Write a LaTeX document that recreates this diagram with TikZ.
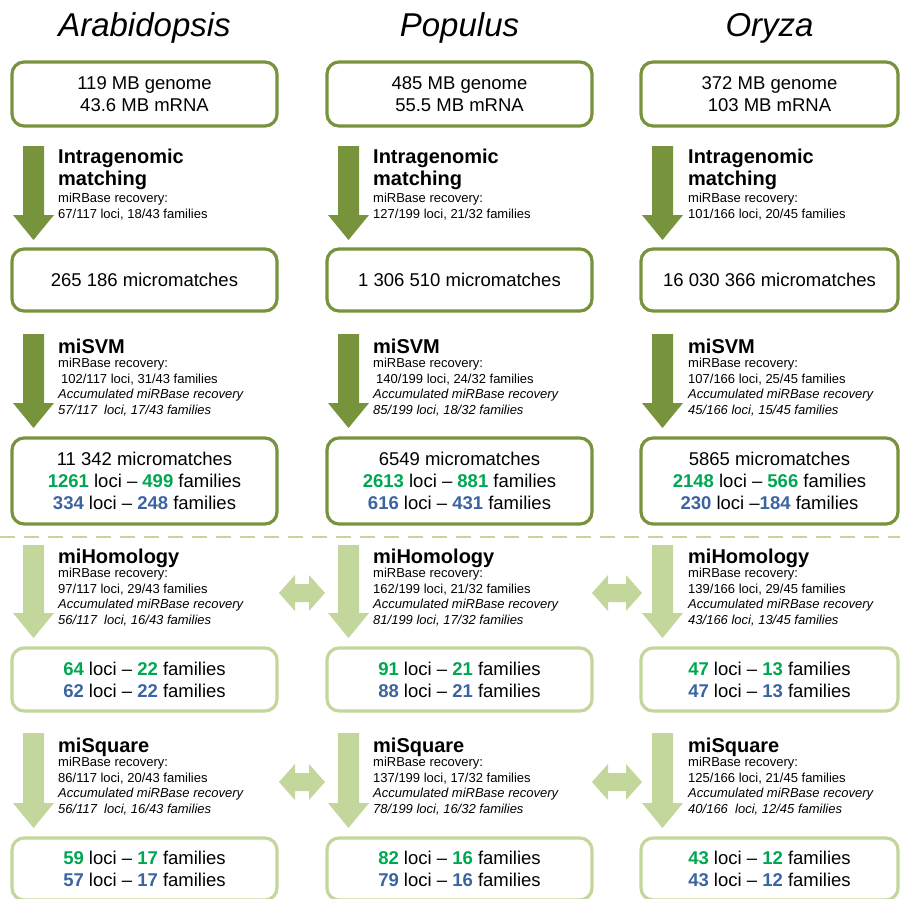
\documentclass[tikz,border=0pt]{standalone}
\usepackage{fontspec}
\setmainfont{Liberation Sans}
\usetikzlibrary{calc}
\definecolor{dkg}{RGB}{119,147,60}
\definecolor{ltg}{RGB}{195,214,155}
\definecolor{numg}{RGB}{0,166,81}
\definecolor{numb}{RGB}{59,100,160}
\newcommand\gn[1]{\textcolor{numg}{\bfseries #1}}
\newcommand\bn[1]{\textcolor{numb}{\bfseries #1}}
\newcommand\varrow[3]{\fill[#1] let \p1=(#2), \p2=(#3) in
  (\x1-10.5pt,\y1) -- (\x1+10.5pt,\y1) -- (\x1+10.5pt,\y2+25pt) -- (\x1+20.5pt,\y2+25pt)
  -- (\x1,\y2) -- (\x1-20.5pt,\y2+25pt) -- (\x1-10.5pt,\y2+25pt) -- cycle;}
\newcommand\harrow[3]{\fill[#1] let \p1=(#2), \p2=(#3) in
  (\x1,\y1) -- (\x1+16pt,\y1+18pt) -- (\x1+16pt,\y1+9pt) -- (\x2-16pt,\y1+9pt)
  -- (\x2-16pt,\y1+18pt) -- (\x2,\y1) -- (\x2-16pt,\y1-18pt) -- (\x2-16pt,\y1-9pt)
  -- (\x1+16pt,\y1-9pt) -- (\x1+16pt,\y1-18pt) -- cycle;}
\newcommand\stepblk[8]{%
  \node[stepname] (#1t) at (#2,#3) {#4};
  \node[small] (#1a) at (#2,#3+14.5) {#5};
  \node[small] (#1b) at (#2,#3+30) {#6};
  \node[smallit] (#1c) at (#2,#3+45.5) {#7};
  \node[smallit] (#1d) at (#2,#3+61) {#8};}
\newcommand\stepone[4]{%
  \node[stepname] (#1t) at (#2,163) {Intragenomic};
  \node[stepname] (#1u) at (#2,185) {matching};
  \node[small] (#1a) at (#2,202) {#3};
  \node[small] (#1b) at (#2,218) {#4};}
\begin{document}
\begin{tikzpicture}[x=1pt,y=-1pt,
  box/.style={draw=dkg, line width=3.2pt, rounded corners=12pt, outer sep=0pt,
    align=center, inner sep=2pt, font=\fontsize{18.5}{22}\selectfont},
  lbox/.style={box, draw=ltg},
  title/.style={anchor=base, font=\fontsize{33}{36}\selectfont\itshape},
  stepname/.style={anchor=base west, inner sep=0pt, font=\fontsize{20}{22}\selectfont\bfseries},
  small/.style={anchor=base west, inner sep=0pt, font=\fontsize{13}{15}\selectfont},
  smallit/.style={anchor=base west, inner sep=0pt, font=\fontsize{13}{15}\selectfont\itshape},
]
\useasboundingbox (0,0) rectangle (900,899);

% titles
\node[title] (ta) at (144.5,37) {Arabidopsis};
\node[title] (tb) at (459.5,37) {Populus};
\node[title] (tc) at (769.5,37) {Oryza};

% boxes column a
\node[box, minimum width=265pt, minimum height=64pt] (b1a) at (144.5,94) {119 MB genome\\43.6 MB mRNA};
\node[box, minimum width=265pt, minimum height=62pt] (b2a) at (144.5,280) {265 186 micromatches};
\node[box, minimum width=265pt, minimum height=86pt] (b3a) at (144.5,481) {11 342 micromatches\\\gn{1261} loci -- \gn{499} families\\\bn{334} loci -- \bn{248} families};
\node[lbox, minimum width=265pt, minimum height=63pt] (b4a) at (144.5,679.5) {\gn{64} loci -- \gn{22} families\\\bn{62} loci -- \bn{22} families};
\node[lbox, minimum width=265pt, minimum height=62pt] (b5a) at (144.5,869) {\gn{59} loci -- \gn{17} families\\\bn{57} loci -- \bn{17} families};

% boxes column b
\node[box, minimum width=265pt, minimum height=64pt] (b1b) at (459.5,94) {485 MB genome\\55.5 MB mRNA};
\node[box, minimum width=265pt, minimum height=62pt] (b2b) at (459.5,280) {1 306 510 micromatches};
\node[box, minimum width=265pt, minimum height=86pt] (b3b) at (459.5,481) {6549 micromatches\\\gn{2613} loci -- \gn{881} families\\\bn{616} loci -- \bn{431} families};
\node[lbox, minimum width=265pt, minimum height=63pt] (b4b) at (459.5,679.5) {\gn{91} loci -- \gn{21} families\\\bn{88} loci -- \bn{21} families};
\node[lbox, minimum width=265pt, minimum height=62pt] (b5b) at (459.5,869) {\gn{82} loci -- \gn{16} families\\\bn{79} loci -- \bn{16} families};

% boxes column c
\node[box, minimum width=257pt, minimum height=64pt] (b1c) at (769.5,94) {372 MB genome\\103 MB mRNA};
\node[box, minimum width=257pt, minimum height=62pt] (b2c) at (769.5,280) {16 030 366 micromatches};
\node[box, minimum width=257pt, minimum height=86pt] (b3c) at (769.5,481) {5865 micromatches\\\gn{2148} loci -- \gn{566} families\\\bn{230} loci --\bn{184} families};
\node[lbox, minimum width=257pt, minimum height=63pt] (b4c) at (769.5,679.5) {\gn{47} loci -- \gn{13} families\\\bn{47} loci -- \bn{13} families};
\node[lbox, minimum width=257pt, minimum height=62pt] (b5c) at (769.5,869) {\gn{43} loci -- \gn{12} families\\\bn{43} loci -- \bn{12} families};

% separator
\draw[ltg, line width=2.5pt, dash pattern=on 15pt off 9pt] (0,537) -- (900,537);

% vertical arrows
\foreach \c in {a,b,c}{
  \varrow{dkg}{[xshift=21.5pt,yshift=-20pt]b1\c.south west}{[xshift=21.5pt,yshift=9pt]b2\c.north west}
  \varrow{dkg}{[xshift=21.5pt,yshift=-23pt]b2\c.south west}{[xshift=21.5pt,yshift=10pt]b3\c.north west}
  \varrow{ltg}{[xshift=21.5pt,yshift=-21pt]b3\c.south west}{[xshift=21.5pt,yshift=10pt]b4\c.north west}
  \varrow{ltg}{[xshift=21.5pt,yshift=-22pt]b4\c.south west}{[xshift=21.5pt,yshift=10pt]b5\c.north west}
}

% horizontal double arrows
\harrow{ltg}{[xshift=2pt,yshift=55pt]b4a.north east}{[xshift=-2pt,yshift=55pt]b4b.north west}
\harrow{ltg}{[xshift=0pt,yshift=55pt]b4b.north east}{[xshift=1pt,yshift=55pt]b4c.north west}
\harrow{ltg}{[xshift=2pt,yshift=56pt]b5a.north east}{[xshift=-2pt,yshift=56pt]b5b.north west}
\harrow{ltg}{[xshift=0pt,yshift=56pt]b5b.north east}{[xshift=1pt,yshift=56pt]b5c.north west}

% step texts column a
\stepone{s1a}{58}{miRBase recovery:}{67/117 loci, 18/43 families}
\stepblk{s2a}{58}{353}{miSVM}{miRBase recovery:}{\hspace{3pt}102/117 loci, 31/43 families}{Accumulated miRBase recovery}{57/117\ \ loci, 17/43 families}
\stepblk{s3a}{58}{563}{miHomology}{miRBase recovery:}{97/117 loci, 29/43 families}{Accumulated miRBase recovery}{56/117\ \ loci, 16/43 families}
\stepblk{s4a}{58}{752}{miSquare}{miRBase recovery:}{86/117 loci, 20/43 families}{Accumulated miRBase recovery}{56/117\ \ loci, 16/43 families}

% step texts column b
\stepone{s1b}{373}{miRBase recovery:}{127/199 loci, 21/32 families}
\stepblk{s2b}{373}{353}{miSVM}{miRBase recovery:}{\hspace{3pt}140/199 loci, 24/32 families}{Accumulated miRBase recovery}{85/199 loci, 18/32 families}
\stepblk{s3b}{373}{563}{miHomology}{miRBase recovery:}{162/199 loci, 21/32 families}{Accumulated miRBase recovery}{81/199 loci, 17/32 families}
\stepblk{s4b}{373}{752}{miSquare}{miRBase recovery:}{137/199 loci, 17/32 families}{Accumulated miRBase recovery}{78/199 loci, 16/32 families}

% step texts column c
\stepone{s1c}{688}{miRBase recovery:}{101/166 loci, 20/45 families}
\stepblk{s2c}{688}{353}{miSVM}{miRBase recovery:}{107/166 loci, 25/45 families}{Accumulated miRBase recovery}{45/166 loci, 15/45 families}
\stepblk{s3c}{688}{563}{miHomology}{miRBase recovery:}{139/166 loci, 29/45 families}{Accumulated miRBase recovery}{43/166 loci, 13/45 families}
\stepblk{s4c}{688}{752}{miSquare}{miRBase recovery:}{125/166 loci, 21/45 families}{Accumulated miRBase recovery}{40/166\ \ loci, 12/45 families}
\end{tikzpicture}
\end{document}
